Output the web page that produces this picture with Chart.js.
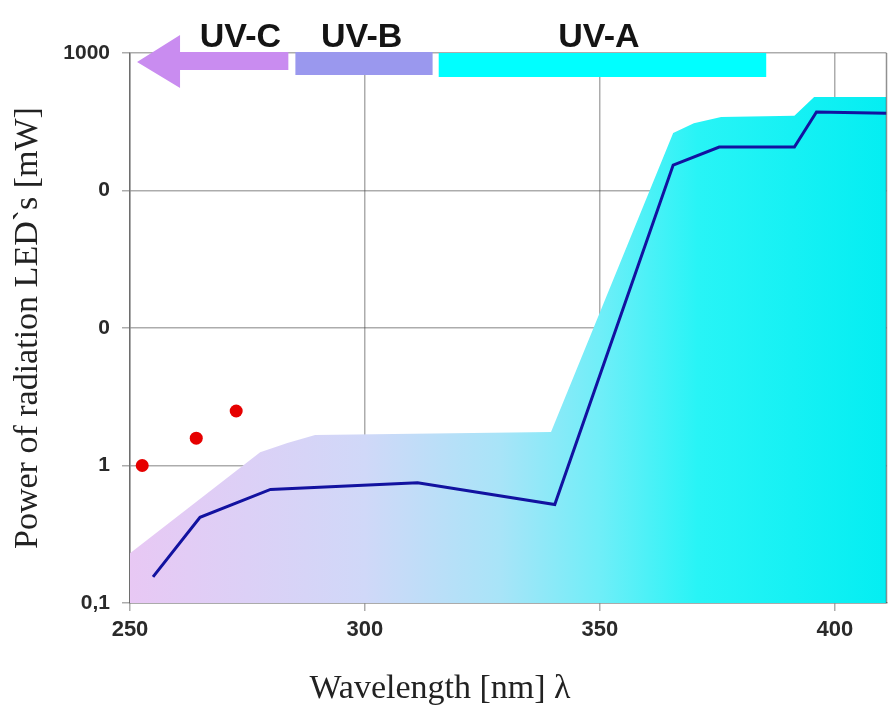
<!DOCTYPE html>
<html>
<head>
<meta charset="utf-8">
<script src="https://cdn.jsdelivr.net/npm/chart.js@4.4.1/dist/chart.umd.min.js"></script>
<style>
  html, body { margin: 0; background: #fff; }
  #wrap { width: 893px; height: 708px; }
</style>
</head>
<body>
<div id="wrap"><canvas id="c"></canvas></div>
<script>
// upper edge of the shaded LED band
const bandWave = [250, 277.7, 283.5, 289.4, 339.6, 365.6, 370.0, 375.8, 391.4, 395.6, 411];
const bandPower = [0.23, 1.25, 1.46, 1.67, 1.75, 262, 309, 343, 350, 479, 479];
// typical LED power (dark blue line)
const ledWave = [254.9, 264.9, 279.9, 311.2, 340.4, 365.6, 375.4, 391.4, 396.1, 411];
const ledPower = [0.155, 0.42, 0.67, 0.75, 0.52, 153, 207, 207, 372, 365];
// red dots
const dotWave = [252.6, 264.1, 272.6];
const dotPower = [1.0, 1.58, 2.49];

const yTicks = [0.1, 1, 10, 100, 1000];
const yTickLabels = ['0,1', '1', '0', '0', '1000'];
const xTicks = [250, 300, 350, 400];

const uvNames = ['UV-C', 'UV-B', 'UV-A'];
const uvFrom = [251.5, 285.2, 315.7];
const uvTo = [283.7, 314.4, 385.4];
const uvLabelAt = [273.5, 299.3, 349.8];

const toPoints = (xs, ys) => xs.map((x, i) => ({ x: x, y: ys[i] }));

const bandFill = (context) => {
  const chart = context.chart;
  const a = chart.chartArea;
  if (!a) return 'rgba(0,0,0,0)';
  const g = chart.ctx.createLinearGradient(a.left, 0, a.right, 0);
  g.addColorStop(0, '#e8c8f4');
  g.addColorStop(0.31, '#d0d8f8');
  g.addColorStop(0.49, '#a8e4f8');
  g.addColorStop(0.62, '#70eef8');
  g.addColorStop(0.75, '#28f4f6');
  g.addColorStop(1, '#04eef2');
  return g;
};

// UV range bars on top, right frame line, x axis title
const uvBands = {
  id: 'uvBands',
  afterDraw(chart) {
    const { ctx, chartArea, scales: { x } } = chart;
    const t = chartArea.top;
    ctx.save();

    ctx.strokeStyle = 'rgba(70,70,70,0.6)';
    ctx.lineWidth = 1.5;
    ctx.beginPath();
    ctx.moveTo(chartArea.right, chartArea.top);
    ctx.lineTo(chartArea.right, chartArea.bottom);
    ctx.stroke();

    // UV-C arrow pointing left
    const tip = x.getPixelForValue(uvFrom[0]);
    const end = x.getPixelForValue(uvTo[0]);
    const base = tip + 43;
    ctx.fillStyle = '#c98cf0';
    ctx.beginPath();
    ctx.moveTo(tip, t + 9);
    ctx.lineTo(base, t - 18);
    ctx.lineTo(base, t - 1);
    ctx.lineTo(end, t - 1);
    ctx.lineTo(end, t + 17);
    ctx.lineTo(base, t + 17);
    ctx.lineTo(base, t + 35);
    ctx.closePath();
    ctx.fill();

    // UV-B
    let x0 = x.getPixelForValue(uvFrom[1]);
    let x1 = x.getPixelForValue(uvTo[1]);
    ctx.fillStyle = '#9a98ee';
    ctx.fillRect(x0, t - 1, x1 - x0, 23);

    // UV-A
    x0 = x.getPixelForValue(uvFrom[2]);
    x1 = x.getPixelForValue(uvTo[2]);
    ctx.fillStyle = '#00ffff';
    ctx.fillRect(x0, t, x1 - x0, 24);

    ctx.fillStyle = '#141414';
    ctx.font = 'bold 34px "Liberation Sans", Arial, sans-serif';
    ctx.textAlign = 'center';
    ctx.textBaseline = 'alphabetic';
    uvNames.forEach((name, i) => {
      ctx.fillText(name, x.getPixelForValue(uvLabelAt[i]), t - 6);
    });

    // x axis title, sits left of centre in the original
    ctx.font = '34px "Liberation Serif", "Times New Roman", serif';
    ctx.fillStyle = '#222';
    ctx.textBaseline = 'middle';
    ctx.fillText('Wavelength [nm] λ', 440, 689);
    ctx.restore();
  }
};

const gridStyle = {
  color: 'rgba(70,70,70,0.45)',
  lineWidth: 1.5,
  tickLength: 8,
  drawTicks: true
};

new Chart(document.getElementById('c'), {
  type: 'line',
  data: {
    datasets: [
      {
        data: toPoints(dotWave, dotPower),
        showLine: false,
        pointRadius: 6.5,
        pointBackgroundColor: '#e60000',
        pointBorderWidth: 0,
        order: 0
      },
      {
        data: toPoints(ledWave, ledPower),
        borderColor: '#1212a0',
        borderWidth: 3,
        pointRadius: 0,
        fill: false,
        tension: 0,
        order: 1
      },
      {
        data: toPoints(bandWave, bandPower),
        borderWidth: 0,
        pointRadius: 0,
        fill: 'start',
        backgroundColor: bandFill,
        tension: 0,
        order: 3
      }
    ]
  },
  options: {
    responsive: true,
    maintainAspectRatio: false,
    animation: false,
    layout: { padding: { top: 53, right: 2, left: 0, bottom: 0 } },
    plugins: {
      legend: { display: false },
      tooltip: { enabled: false }
    },
    scales: {
      x: {
        type: 'linear',
        min: 250,
        max: 411,
        z: 1,
        afterBuildTicks: (s) => { s.ticks = xTicks.map(v => ({ value: v })); },
        afterFit: (s) => { s.height = 105; },
        grid: gridStyle,
        border: { color: 'rgba(70,70,70,0.6)', width: 1.5 },
        ticks: {
          padding: 6,
          color: '#2a2a2a',
          font: { family: '"Liberation Sans", Arial, sans-serif', size: 22, weight: 'bold' },
          maxRotation: 0
        }
      },
      y: {
        type: 'logarithmic',
        min: 0.1,
        max: 1000,
        z: 1,
        afterBuildTicks: (s) => { s.ticks = yTicks.map(v => ({ value: v })); },
        afterFit: (s) => { s.width = 130; },
        grid: gridStyle,
        border: { color: 'rgba(70,70,70,0.6)', width: 1.5 },
        ticks: {
          padding: 12,
          color: '#2a2a2a',
          font: { family: '"Liberation Sans", Arial, sans-serif', size: 21, weight: 'bold' },
          callback: (v) => {
            const i = yTicks.indexOf(v);
            return i >= 0 ? yTickLabels[i] : '';
          }
        },
        title: {
          display: true,
          text: 'Power of radiation LED`s [mW]',
          color: '#222',
          font: { family: '"Liberation Serif", "Times New Roman", serif', size: 34 },
          padding: { top: 8, bottom: 0 }
        }
      }
    }
  },
  plugins: [uvBands]
});
</script>
</body>
</html>
